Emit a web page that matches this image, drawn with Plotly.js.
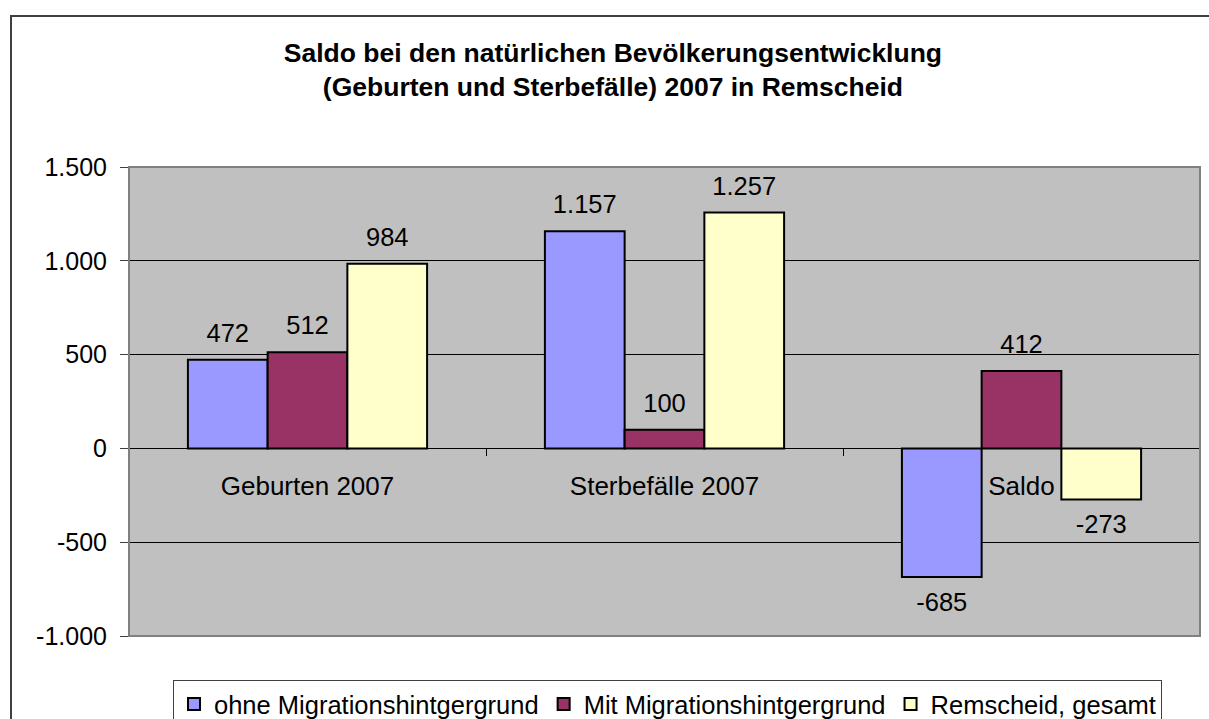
<!DOCTYPE html>
<html>
<head>
<meta charset="utf-8">
<script src="https://cdn.plot.ly/plotly-3.0.1.min.js"></script>
<style>
  html, body { margin: 0; padding: 0; background: #fff; }
  #wrap { position: relative; width: 1209px; height: 719px; overflow: hidden; }
  #chart { position: absolute; left: 0; top: 0; width: 1209px; height: 719px; }
  #frame { position: absolute; left: 10px; top: 15px; width: 1300px; height: 800px;
           border-left: 2px solid #404040; border-top: 2px solid #404040; pointer-events: none; }
</style>
</head>
<body>
<div id="wrap">
  <div id="chart"></div>
  <div id="frame"></div>
</div>
<script>
const categories = ["Geburten 2007", "Sterbefälle 2007", "Saldo"];
const seriesNames = ["ohne Migrationshintgergrund", "Mit Migrationshintgergrund", "Remscheid, gesamt"];
const ohneMigration = [472, 1157, -685];
const mitMigration = [512, 100, 412];
const remscheidGesamt = [984, 1257, -273];
const yTickVals = [-1000, -500, 0, 500, 1000, 1500];
const yTickText = ["-1.000", "-500", "0", "500", "1.000", "1.500"];
const colors = ["#9999FF", "#993366", "#FFFFCC"];

const yMin = -1000, yMax = 1500;
const allSeries = [ohneMigration, mitMigration, remscheidGesamt];
const FONT = "Liberation Sans, Arial, sans-serif";

function fmtDE(v) {
  const s = String(Math.abs(v)).replace(/\B(?=(\d{3})+(?!\d))/g, ".");
  return (v < 0 ? "-" : "") + s;
}

const traces = [];
allSeries.forEach((vals, i) => {
  traces.push({
    type: "bar",
    name: seriesNames[i],
    x: categories,
    y: vals,
    marker: { color: colors[i], line: { color: "#000", width: 2 } },
    hoverinfo: "skip"
  });
});
allSeries.forEach((vals, i) => {
  traces.push({
    type: "scatter",
    mode: "markers+text",
    x: categories,
    y: vals,
    text: vals.map(fmtDE),
    textposition: vals.map(v => v >= 0 ? "top center" : "bottom center"),
    textfont: { family: FONT, size: 25.5, color: "#000" },
    marker: { size: vals.map(v => v >= 0 ? 17 : 22), opacity: 0 },
    showlegend: false,
    hoverinfo: "skip",
    cliponaxis: false
  });
});

const layout = {
  width: 1209,
  height: 719,
  margin: { l: 129, r: 9, t: 167, b: 83, pad: 0, autoexpand: false },
  paper_bgcolor: "#fff",
  plot_bgcolor: "#C0C0C0",
  font: { family: FONT, color: "#000" },
  barmode: "group",
  bargap: 0.33,
  bargroupgap: 0,
  scattermode: "group",
  scattergap: 0.33,
  title: {
    text: "<b>Saldo bei den natürlichen Bevölkerungsentwicklung<br>(Geburten und Sterbefälle) 2007 in Remscheid</b>",
    font: { family: FONT, size: 26.5, color: "#000" },
    xref: "container", x: 0.507, xanchor: "center",
    yref: "container", y: 1 - 62 / 719, yanchor: "top"
  },
  xaxis: {
    type: "category",
    anchor: "free",
    position: (0 - yMin) / (yMax - yMin),
    showline: false,
    showgrid: false,
    zeroline: false,
    ticks: "outside",
    tickson: "boundaries",
    ticklen: 7,
    tickwidth: 1,
    tickcolor: "#000",
    ticklabelstandoff: 20,
    tickfont: { size: 26, color: "#000" },
    automargin: false,
    fixedrange: true
  },
  yaxis: {
    range: [yMin, yMax],
    tickvals: yTickVals,
    ticktext: yTickText,
    showgrid: true,
    gridcolor: "#000",
    gridwidth: 1,
    zeroline: true,
    zerolinecolor: "#000",
    zerolinewidth: 1,
    showline: true,
    linecolor: "#404040",
    linewidth: 1,
    ticks: "outside",
    ticklen: 8,
    tickcolor: "#404040",
    ticklabelstandoff: 8,
    tickfont: { size: 25, color: "#000" },
    automargin: false,
    fixedrange: true
  },
  legend: {
    orientation: "h",
    xref: "container", yref: "container",
    x: 173 / 1209, xanchor: "left",
    y: 1 - 680 / 719, yanchor: "top",
    bgcolor: "#fff",
    bordercolor: "#404040",
    borderwidth: 1,
    font: { size: 25.5, color: "#000" },
    traceorder: "normal"
  },
  shapes: [{
    type: "rect", xref: "paper", yref: "paper",
    x0: 0, x1: 1, y0: 0, y1: 1,
    line: { color: "#808080", width: 2 },
    layer: "above"
  }],
  showlegend: true
};

Plotly.newPlot("chart", traces, layout, { displayModeBar: false, staticPlot: true });
</script>
</body>
</html>
